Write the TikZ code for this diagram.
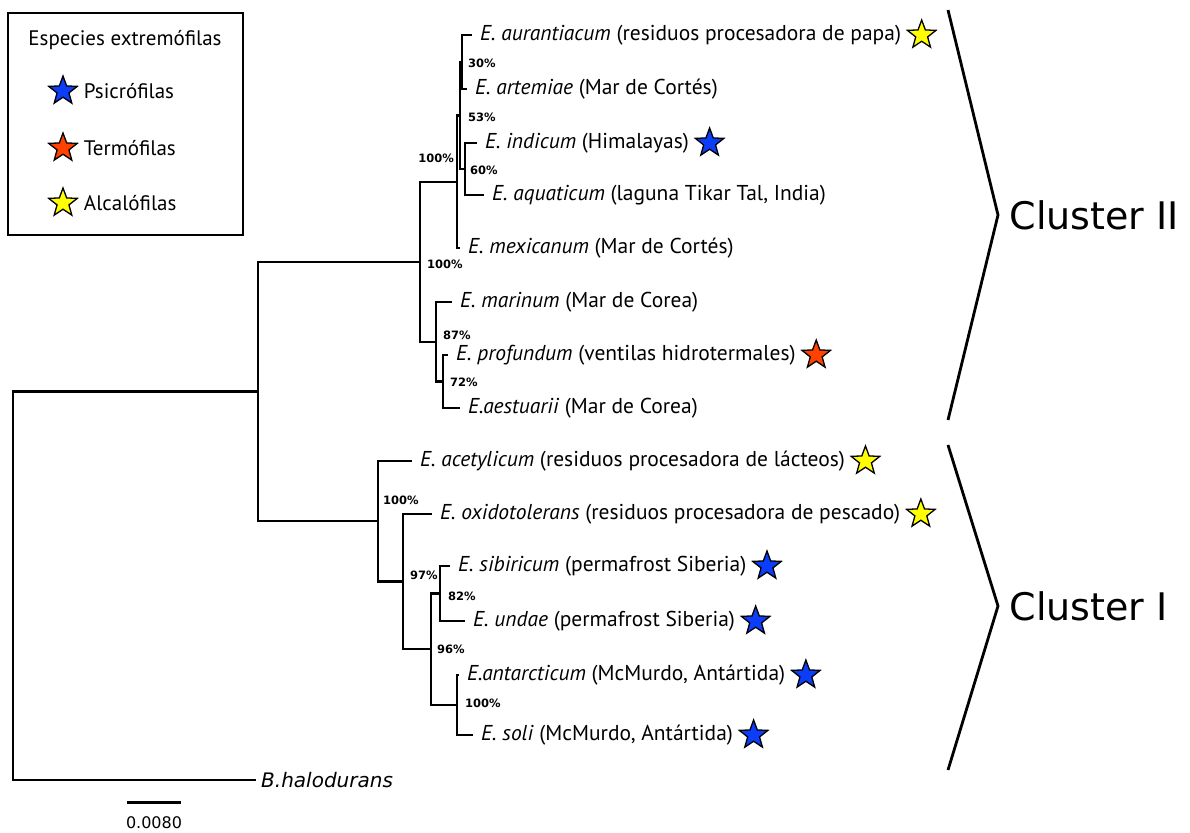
\documentclass[tikz,border=0pt]{standalone}
\usepackage{fontspec}
\setmainfont{PT Sans}
\newfontfamily\versans{DejaVu Sans}
\usepackage{xcolor}
\usepackage{tikz}
\usetikzlibrary{shapes.geometric, positioning}

\definecolor{psiblue}{RGB}{12,62,250}
\definecolor{termred}{RGB}{255,66,0}
\definecolor{alcyellow}{RGB}{255,255,0}

\tikzset{
  branch/.style={line width=2.8pt},
  leaf/.style={anchor=west, inner xsep=8pt, inner ysep=0pt, font=\fontsize{21.5}{25}\selectfont},
  boot/.style={inner sep=0pt, anchor=west, font=\versans\bfseries\fontsize{11.5}{13}\selectfont},
  estrella/.style={star, star points=5, star point ratio=2.4, minimum size=30pt, inner sep=0pt, draw=black, line width=1.3pt},
  leyenda/.style={anchor=west, font=\fontsize{21}{25}\selectfont},
  cluster/.style={anchor=west, font=\versans\fontsize{38}{44}\selectfont},
}

\begin{document}
\begin{tikzpicture}[x=1pt,y=-1pt]
  \useasboundingbox (0,0) rectangle (1190,832);

  % nodos internos del arbol
  \coordinate (raiz) at (13,586);
  \coordinate (n1) at (258,391.5);
  \coordinate (c2) at (420,262);
  \coordinate (nA) at (457,182);
  \coordinate (nB) at (460,115.5);
  \coordinate (nC) at (462,62);
  \coordinate (nD) at (465,169);
  \coordinate (nE) at (436,342);
  \coordinate (nF) at (443,381.5);
  \coordinate (c1) at (378,521);
  \coordinate (nH) at (403,581.5);
  \coordinate (nI) at (431,649);
  \coordinate (nJ) at (440,593.5);
  \coordinate (nK) at (457,705);

  % hojas
  \node[leaf] (aur) at (472,35) {\textit{E. aurantiacum} (residuos procesadora de papa)};
  \node[leaf] (art) at (467,89) {\textit{E. artemiae} (Mar de Cortés)};
  \node[leaf] (ind) at (477,143) {\textit{E. indicum} (Himalayas)};
  \node[leaf] (aqu) at (484,195) {\textit{E. aquaticum} (laguna Tikar Tal, India)};
  \node[leaf] (mex) at (460,248) {\textit{E. mexicanum} (Mar de Cortés)};
  \node[leaf] (mar) at (452,302) {\textit{E. marinum} (Mar de Corea)};
  \node[leaf] (pro) at (448,355) {\textit{E. profundum} (ventilas hidrotermales)};
  \node[leaf] (aes) at (460,408) {\textit{E.aestuarii} (Mar de Corea)};
  \node[leaf] (ace) at (412,461) {\textit{E. acetylicum} (residuos procesadora de lácteos)};
  \node[leaf] (oxi) at (432,514) {\textit{E. oxidotolerans} (residuos procesadora de pescado)};
  \node[leaf] (sib) at (450,566) {\textit{E. sibiricum} (permafrost Siberia)};
  \node[leaf] (und) at (465,621) {\textit{E. undae} (permafrost Siberia)};
  \node[leaf] (ant) at (459,675) {\textit{E.antarcticum} (McMurdo, Antártida)};
  \node[leaf] (sol) at (473,735) {\textit{E. soli} (McMurdo, Antártida)};
  \node[leaf, inner xsep=5pt, font=\versans\itshape\fontsize{20}{24}\selectfont] (hal) at (256,780) {B.halodurans};

  % ramas
  \draw[branch] (raiz) |- (n1);
  \draw[branch] (raiz) |- (hal.west);
  \draw[branch] (n1) |- (c2);
  \draw[branch] (n1) |- (c1);
  \draw[branch] (c2) |- (nA);
  \draw[branch] (c2) |- (nE);
  \draw[branch] (nA) |- (nB);
  \draw[branch] (nA) |- (mex.west);
  \draw[branch] (nB) |- (nC);
  \draw[branch] (nB) |- (nD);
  \draw[branch] (nC) |- (aur.west);
  \draw[branch] (nC) |- (art.west);
  \draw[branch] (nD) |- (ind.west);
  \draw[branch] (nD) |- (aqu.west);
  \draw[branch] (nE) |- (mar.west);
  \draw[branch] (nE) |- (nF);
  \draw[branch] (nF) |- (pro.west);
  \draw[branch] (nF) |- (aes.west);
  \draw[branch] (c1) |- (ace.west);
  \draw[branch] (c1) |- (nH);
  \draw[branch] (nH) |- (oxi.west);
  \draw[branch] (nH) |- (nI);
  \draw[branch] (nI) |- (nJ);
  \draw[branch] (nI) |- (nK);
  \draw[branch] (nJ) |- (sib.west);
  \draw[branch] (nJ) |- (und.west);
  \draw[branch] (nK) |- (ant.west);
  \draw[branch] (nK) |- (sol.west);

  % valores de bootstrap
  \node[boot] (bsC) at (468,63) {30\%};
  \node[boot] (bsB) at (468,117) {53\%};
  \node[boot, anchor=east] (bsA) at (454,158) {100\%};
  \node[boot] (bsD) at (470,170) {60\%};
  \node[boot] (bsII) at (427,264) {100\%};
  \node[boot] (bsE) at (443,335) {87\%};
  \node[boot] (bsF) at (450,382) {72\%};
  \node[boot] (bsI) at (383,500) {100\%};
  \node[boot] (bsH) at (410,575) {97\%};
  \node[boot] (bsJ) at (448,596) {82\%};
  \node[boot] (bsNI) at (437,649) {96\%};
  \node[boot] (bsK) at (465,703) {100\%};

  % estrellas
  \node[estrella, fill=alcyellow, right=3pt of aur] (sAur) {};
  \node[estrella, fill=psiblue, right=3pt of ind] (sInd) {};
  \node[estrella, fill=termred, right=3pt of pro] (sPro) {};
  \node[estrella, fill=alcyellow, right=3pt of ace] (sAce) {};
  \node[estrella, fill=alcyellow, right=3pt of oxi] (sOxi) {};
  \node[estrella, fill=psiblue, right=3pt of sib] (sSib) {};
  \node[estrella, fill=psiblue, right=3pt of und] (sUnd) {};
  \node[estrella, fill=psiblue, right=3pt of ant] (sAnt) {};
  \node[estrella, fill=psiblue, right=3pt of sol] (sSol) {};

  % clusters
  \draw[branch] (948,10) -- (998,215) coordinate (pII) -- (948,420);
  \node[cluster] (cII) at (1006,215) {Cluster II};
  \draw[branch] (948,445) -- (998,606) coordinate (pI) -- (948,770);
  \node[cluster] (cI) at (1006,606) {Cluster I};

  % escala
  \draw[line width=3pt] (127,802) coordinate (e0) -- (181,802) coordinate (e1);
  \node[font=\versans\fontsize{16}{19}\selectfont] (escala) at (154,823) {0.0080};

  % leyenda
  \draw[line width=1.3pt] (8,13) rectangle (243,235);
  \node[font=\fontsize{21}{25}\selectfont] (titulo) at (125,40) {Especies extremófilas};
  \node[estrella, fill=psiblue] (lPsi) at (63,91) {};
  \node[estrella, fill=termred] (lTer) at (63,148) {};
  \node[estrella, fill=alcyellow] (lAlc) at (63,203) {};
  \node[leyenda, right=8pt of lPsi] (tPsi) {Psicrófilas};
  \node[leyenda, right=8pt of lTer] (tTer) {Termófilas};
  \node[leyenda, right=8pt of lAlc] (tAlc) {Alcalófilas};
\end{tikzpicture}
\end{document}
